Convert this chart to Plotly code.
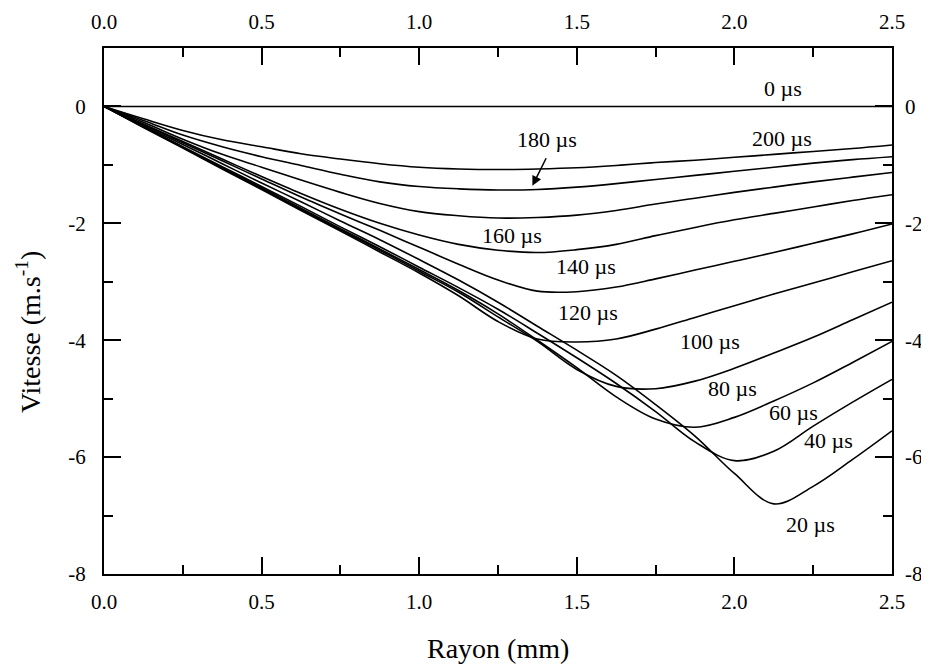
import plotly.graph_objects as go

# ---------------- data ----------------
RAYON = [0.0, 0.125, 0.25, 0.375, 0.5, 0.625, 0.75, 0.875, 1.0, 1.125, 1.25,
         1.375, 1.5, 1.625, 1.75, 1.875, 2.0, 2.125, 2.25, 2.375, 2.5]

V_0 = [0.0] * 21
V_200 = [0, -0.21, -0.41, -0.57, -0.69, -0.81, -0.90, -0.98, -1.04, -1.07, -1.08,
         -1.07, -1.05, -1.01, -0.96, -0.92, -0.87, -0.82, -0.77, -0.72, -0.66]
V_180 = [0, -0.24, -0.49, -0.69, -0.86, -1.01, -1.16, -1.29, -1.37, -1.41, -1.43,
         -1.42, -1.38, -1.32, -1.25, -1.18, -1.11, -1.04, -0.97, -0.91, -0.86]
V_160 = [0, -0.27, -0.56, -0.82, -1.04, -1.26, -1.47, -1.66, -1.80, -1.87, -1.91,
         -1.90, -1.86, -1.78, -1.67, -1.57, -1.47, -1.38, -1.29, -1.21, -1.13]
V_140 = [0, -0.30, -0.60, -0.90, -1.20, -1.49, -1.76, -2.00, -2.20, -2.36, -2.46,
         -2.50, -2.45, -2.36, -2.21, -2.07, -1.94, -1.83, -1.72, -1.61, -1.51]
V_120 = [0, -0.31, -0.62, -0.93, -1.24, -1.55, -1.84, -2.12, -2.41, -2.70, -2.97,
         -3.16, -3.17, -3.09, -2.95, -2.80, -2.65, -2.50, -2.34, -2.18, -2.01]
V_100 = [0, -0.36, -0.71, -1.07, -1.42, -1.78, -2.13, -2.49, -2.85, -3.24, -3.68,
         -3.98, -4.03, -3.98, -3.81, -3.61, -3.41, -3.21, -3.02, -2.83, -2.64]
V_80 = [0, -0.35, -0.70, -1.06, -1.41, -1.76, -2.11, -2.46, -2.82, -3.18, -3.60,
        -4.02, -4.50, -4.79, -4.83, -4.70, -4.48, -4.22, -3.95, -3.65, -3.35]
V_60 = [0, -0.35, -0.70, -1.05, -1.39, -1.74, -2.09, -2.44, -2.79, -3.15, -3.55,
        -4.00, -4.47, -4.97, -5.35, -5.49, -5.32, -5.04, -4.73, -4.38, -4.02]
V_40 = [0, -0.34, -0.69, -1.03, -1.37, -1.71, -2.06, -2.40, -2.75, -3.10, -3.47,
        -3.88, -4.30, -4.74, -5.22, -5.74, -6.06, -5.90, -5.47, -5.06, -4.67]
V_20 = [0, -0.33, -0.65, -0.98, -1.31, -1.63, -1.96, -2.28, -2.62, -2.97, -3.35,
        -3.76, -4.17, -4.60, -5.10, -5.64, -6.28, -6.80, -6.50, -6.04, -5.55]

SERIES = [V_200, V_180, V_160, V_140, V_120, V_100, V_80, V_60, V_40, V_20]
SERIES_NAMES = ["200 µs", "180 µs", "160 µs", "140 µs", "120 µs",
                "100 µs", "80 µs", "60 µs", "40 µs", "20 µs"]
ZERO_NAME = "0 µs"

X_TICKS = [0.0, 0.5, 1.0, 1.5, 2.0, 2.5]
X_TICK_TEXT = ["0.0", "0.5", "1.0", "1.5", "2.0", "2.5"]
Y_TICKS = [-8, -6, -4, -2, 0]
Y_TICK_TEXT = ["-8", "-6", "-4", "-2", "0"]

X_TITLE = "Rayon (mm)"
Y_TITLE = "Vitesse (m.s<sup>-1</sup>)"

# label placement (layout, not data)
LABEL_POS = {
    "0 µs": (2.154, 0.30), "200 µs": (2.151, -0.54), "180 µs": (1.405, -0.57),
    "160 µs": (1.293, -2.20), "140 µs": (1.528, -2.73), "120 µs": (1.536, -3.53),
    "100 µs": (1.924, -4.03), "80 µs": (1.994, -4.82), "60 µs": (2.186, -5.23),
    "40 µs": (2.297, -5.71), "20 µs": (2.24, -7.16),
}

FONT = "Liberation Serif, Times New Roman, serif"
LINE = dict(color="black", width=1.6, shape="spline", smoothing=1.0)

fig = go.Figure()
for name, vals in zip(SERIES_NAMES, SERIES):
    fig.add_trace(go.Scatter(x=RAYON, y=vals, mode="lines", name=name, line=LINE,
                             showlegend=False, hoverinfo="skip"))
# the 0 µs profile is drawn on the twin (top/right) axes so they get rendered
fig.add_trace(go.Scatter(x=RAYON, y=V_0, mode="lines", name=ZERO_NAME, line=LINE,
                         xaxis="x2", yaxis="y2", showlegend=False, hoverinfo="skip"))

tickfont = dict(family=FONT, size=21, color="black")
axis_common = dict(showline=True, linewidth=2, linecolor="black", showgrid=False,
                   zeroline=False, ticks="inside", tickwidth=2, tickcolor="black",
                   ticklen=17, tickfont=tickfont, automargin=False)

fig.update_layout(
    width=929, height=667,
    margin=dict(l=96, r=45, t=40, b=101),
    paper_bgcolor="white", plot_bgcolor="white",
    font=dict(family=FONT, size=21, color="black"),
    xaxis=dict(range=[0, 2.5], tickvals=X_TICKS, ticktext=X_TICK_TEXT, mirror="ticks",
               ticklabelstandoff=8,
               minor=dict(ticks="inside", ticklen=9, tickwidth=2, tickcolor="black",
                          dtick=0.25, showgrid=False), **axis_common),
    yaxis=dict(range=[-8, 1], tickvals=Y_TICKS, ticktext=Y_TICK_TEXT, mirror="ticks",
               ticklabelstandoff=12,
               minor=dict(ticks="inside", ticklen=9, tickwidth=2, tickcolor="black",
                          dtick=1, showgrid=False), **axis_common),
    xaxis2=dict(range=[0, 2.5], overlaying="x", side="top", anchor="y2",
                tickvals=X_TICKS, ticktext=X_TICK_TEXT, ticks="", showline=False,
                showgrid=False, zeroline=False, ticklabelstandoff=14, tickfont=tickfont,
                automargin=False),
    yaxis2=dict(range=[-8, 1], overlaying="y", side="right", anchor="x2",
                tickvals=Y_TICKS, ticktext=Y_TICK_TEXT, ticks="", showline=False,
                showgrid=False, zeroline=False, ticklabelstandoff=12, tickfont=tickfont,
                automargin=False),
)

for name, (lx, ly) in LABEL_POS.items():
    fig.add_annotation(x=lx, y=ly, xref="x", yref="y", text=name, showarrow=False,
                       font=dict(family=FONT, size=22, color="black"))

# arrow for 180 µs
fig.add_annotation(x=1.359, y=-1.358, xref="x", yref="y", ax=1.405, ay=-0.86,
                   axref="x", ayref="y", text="", showarrow=True, arrowhead=2,
                   arrowsize=1.3, arrowwidth=1.5, arrowcolor="black")

fig.add_annotation(x=0.5, y=(574 - 648) / 526, xref="paper", yref="paper",
                   xanchor="center", yanchor="middle",
                   text=X_TITLE, showarrow=False,
                   font=dict(family=FONT, size=28, color="black"))
fig.add_annotation(x=(28 - 104) / 788, y=(574 - 332) / 526, xref="paper", yref="paper",
                   xanchor="center", yanchor="middle",
                   text=Y_TITLE, showarrow=False, textangle=-90,
                   font=dict(family=FONT, size=28, color="black"))

fig.write_html("out.html")
